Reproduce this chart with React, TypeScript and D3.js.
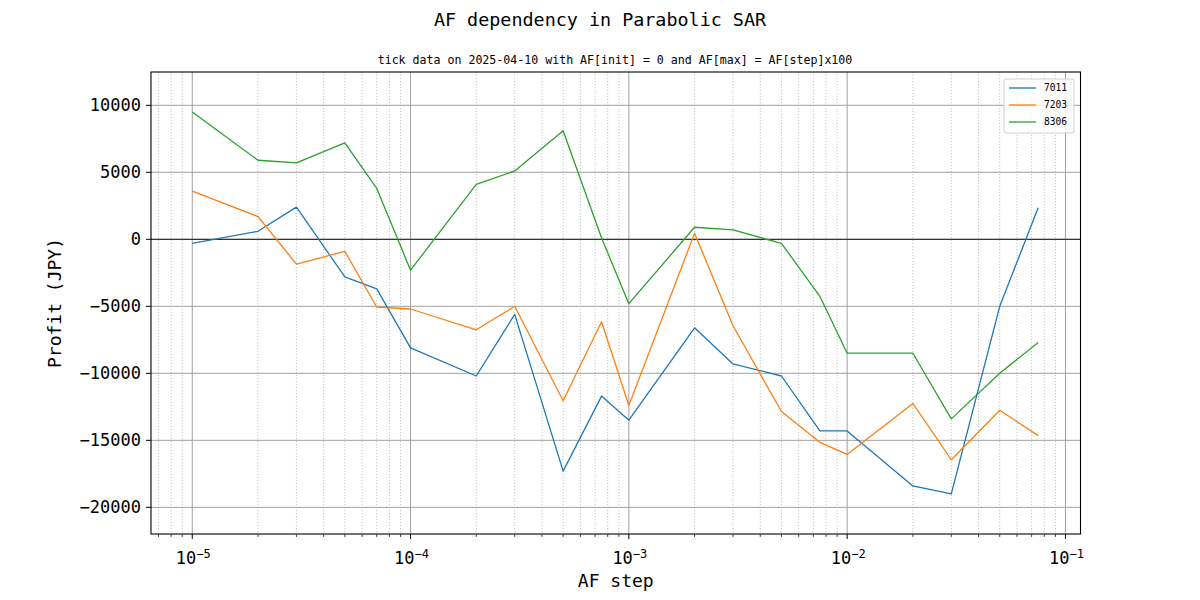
import React, { useEffect, useRef } from "react";
import * as d3 from "d3";

// AF step values (x axis)
const afSteps = [
  1e-5, 2e-5, 3e-5, 5e-5, 7e-5, 1e-4, 2e-4, 3e-4, 5e-4, 7.5e-4, 1e-3, 2e-3, 3e-3,
  5e-3, 7.5e-3, 1e-2, 2e-2, 3e-2, 5e-2, 7.5e-2,
];

// profit per ticker (JPY)
const profit7011 = [
  -300, 600, 2400, -2800, -3700, -8100, -10200, -5600, -17300, -11700, -13500,
  -6600, -9300, -10200, -14300, -14300, -18400, -19000, -5000, 2350,
];
const profit7203 = [
  3600, 1700, -1850, -900, -5050, -5200, -6750, -5000, -12050, -6150, -12400,
  450, -6450, -12850, -15150, -16050, -12250, -16450, -12750, -14650,
];
const profit8306 = [
  9500, 5900, 5700, 7200, 3800, -2300, 4100, 5100, 8100, 100, -4800, 900, 700,
  -300, -4250, -8500, -8500, -13400, -10000, -7700,
];

const seriesNames = ["7011", "7203", "8306"];
const seriesColors = ["#1f77b4", "#ff7f0e", "#2ca02c"];
const yTicks = [-20000, -15000, -10000, -5000, 0, 5000, 10000];
const xDecades = [-5, -4, -3, -2, -1];

const FONT = "'DejaVu Sans Mono', monospace";

const App: React.FC = () => {
  const ref = useRef<SVGSVGElement | null>(null);

  useEffect(() => {
    if (!ref.current) return;
    const svg = d3.select(ref.current);
    svg.selectAll("*").remove();

    const margin = { top: 72, right: 1200 - 1080.5, bottom: 600 - 534, left: 151 };
    const width = 1200 - margin.left - margin.right;
    const height = 600 - margin.top - margin.bottom;

    const x = d3
      .scaleLog()
      .domain([Math.pow(10, -5.189), Math.pow(10, -0.931)])
      .range([0, width]);
    const y = d3.scaleLinear().domain([-21990, 12485]).range([height, 0]);

    svg.append("rect").attr("width", 1200).attr("height", 600).attr("fill", "white");

    const g = svg
      .append("g")
      .attr("transform", `translate(${margin.left},${margin.top})`);

    // minor x positions
    const minors: number[] = [];
    for (let e = -6; e <= -1; e++) {
      for (let m = 2; m <= 9; m++) {
        const v = m * Math.pow(10, e);
        if (v > x.domain()[0] && v < x.domain()[1]) minors.push(v);
      }
    }

    // minor grid (dotted)
    g.selectAll(".minor-grid")
      .data(minors)
      .enter()
      .append("line")
      .attr("x1", (d) => x(d))
      .attr("x2", (d) => x(d))
      .attr("y1", 0)
      .attr("y2", height)
      .attr("stroke", (d) => (Math.abs(d - 2e-5) < 1e-9 ? "#a8a8e0" : "#b4b4b4"))
      .attr("stroke-width", 0.8)
      .attr("stroke-dasharray", "1.2,1.8");

    // major grid
    g.selectAll(".xgrid")
      .data(xDecades.map((e) => Math.pow(10, e)))
      .enter()
      .append("line")
      .attr("x1", (d) => x(d))
      .attr("x2", (d) => x(d))
      .attr("y1", 0)
      .attr("y2", height)
      .attr("stroke", "#a0a0a0")
      .attr("stroke-width", 1);

    g.selectAll(".ygrid")
      .data(yTicks)
      .enter()
      .append("line")
      .attr("x1", 0)
      .attr("x2", width)
      .attr("y1", (d) => y(d))
      .attr("y2", (d) => y(d))
      .attr("stroke", "#a0a0a0")
      .attr("stroke-width", 1);

    // zero line
    g.append("line")
      .attr("x1", 0)
      .attr("x2", width)
      .attr("y1", y(0))
      .attr("y2", y(0))
      .attr("stroke", "#000")
      .attr("stroke-width", 0.9);

    // series lines
    const allSeries = [profit7011, profit7203, profit8306];
    const line = d3
      .line<number>()
      .x((_, i) => x(afSteps[i]))
      .y((d) => y(d));

    allSeries.forEach((s, i) => {
      g.append("path")
        .datum(s)
        .attr("fill", "none")
        .attr("stroke", seriesColors[i])
        .attr("stroke-width", 1.3)
        .attr("stroke-linejoin", "round")
        .attr("d", line);
    });

    // spines
    g.append("rect")
      .attr("width", width)
      .attr("height", height)
      .attr("fill", "none")
      .attr("stroke", "#000")
      .attr("stroke-width", 1.1);

    // x ticks
    g.selectAll(".xminor-tick")
      .data(minors)
      .enter()
      .append("line")
      .attr("x1", (d) => x(d))
      .attr("x2", (d) => x(d))
      .attr("y1", height)
      .attr("y2", height + 3)
      .attr("stroke", "#000")
      .attr("stroke-width", 0.7);

    xDecades.forEach((e) => {
      const px = x(Math.pow(10, e));
      g.append("line")
        .attr("x1", px)
        .attr("x2", px)
        .attr("y1", height)
        .attr("y2", height + 5)
        .attr("stroke", "#000")
        .attr("stroke-width", 1);
      const t = g
        .append("text")
        .attr("x", px + 1)
        .attr("y", height + 30)
        .attr("text-anchor", "middle")
        .style("font-family", FONT)
        .style("font-size", "17px")
        .attr("fill", "#000");
      t.append("tspan").text("10");
      t.append("tspan")
        .attr("dy", "-0.5em")
        .style("font-size", "12px")
        .text(`\u2212${-e}`);
    });

    // y ticks
    yTicks.forEach((v) => {
      const py = y(v);
      g.append("line")
        .attr("x1", -5)
        .attr("x2", 0)
        .attr("y1", py)
        .attr("y2", py)
        .attr("stroke", "#000")
        .attr("stroke-width", 1);
      g.append("text")
        .attr("x", -10)
        .attr("y", py)
        .attr("dy", "0.35em")
        .attr("text-anchor", "end")
        .style("font-family", FONT)
        .style("font-size", "17px")
        .text(v < 0 ? `\u2212${-v}` : `${v}`);
    });

    // axis labels
    g.append("text")
      .attr("x", width / 2)
      .attr("y", height + 53)
      .attr("text-anchor", "middle")
      .style("font-family", FONT)
      .style("font-size", "18px")
      .text("AF step");

    g.append("text")
      .attr("transform", `translate(${-90},${height / 2}) rotate(-90)`)
      .attr("text-anchor", "middle")
      .style("font-family", FONT)
      .style("font-size", "18px")
      .text("Profit (JPY)");

    // titles
    svg
      .append("text")
      .attr("x", 600)
      .attr("y", 26)
      .attr("text-anchor", "middle")
      .style("font-family", FONT)
      .style("font-size", "18.4px")
      .text("AF dependency in Parabolic SAR");

    svg
      .append("text")
      .attr("x", 615)
      .attr("y", 64)
      .attr("text-anchor", "middle")
      .style("font-family", FONT)
      .style("font-size", "11.6px")
      .text("tick data on 2025-04-10 with AF[init] = 0 and AF[max] = AF[step]x100");

    // legend
    const lg = svg.append("g").attr("transform", "translate(1004,79)");
    lg.append("rect")
      .attr("width", 70)
      .attr("height", 54)
      .attr("rx", 2)
      .attr("fill", "white")
      .attr("fill-opacity", 0.8)
      .attr("stroke", "#d0d0d0")
      .attr("stroke-width", 1);
    seriesNames.forEach((name, i) => {
      const yy = 9 + i * 17;
      lg.append("line")
        .attr("x1", 5)
        .attr("x2", 32)
        .attr("y1", yy)
        .attr("y2", yy)
        .attr("stroke", seriesColors[i])
        .attr("stroke-width", 1.3);
      lg.append("text")
        .attr("x", 40)
        .attr("y", yy)
        .attr("dy", "0.35em")
        .style("font-family", FONT)
        .style("font-size", "9.6px")
        .text(name);
    });
  }, []);

  return (
    <svg
      ref={ref}
      width={1200}
      height={600}
      style={{ position: "absolute", left: 0, top: 0, display: "block" }}
    />
  );
};

export default App;
